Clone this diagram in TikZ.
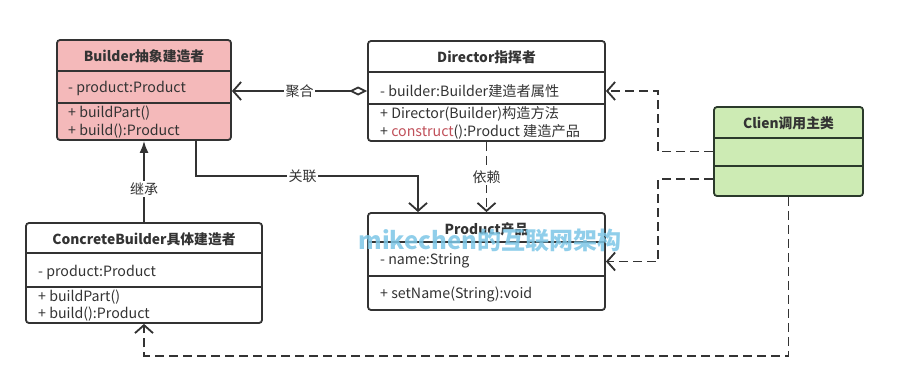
\documentclass[tikz,border=0pt]{standalone}
\usepackage{fontspec}
\setmainfont{Noto Sans CJK SC}
\usepackage{xcolor}
\usetikzlibrary{arrows.meta,calc}
\definecolor{boxline}{HTML}{333333}
\definecolor{greenline}{HTML}{2B3A2B}
\definecolor{txt}{HTML}{333333}
\definecolor{pinkfill}{HTML}{F4B9BA}
\definecolor{greenfill}{HTML}{CDEBB4}
\definecolor{redtxt}{HTML}{C0505A}
\definecolor{mark}{HTML}{7CC6E6}
\tikzset{
  umlbox/.style={
    draw=boxline,
    line width=1.8pt,
    rounded corners=3pt,
    inner sep=0pt
  },
  divider/.style={
    draw=boxline,
    line width=1.7pt
  },
  umltitle/.style={
    font=\bfseries\fontsize{13.8}{15}\selectfont,
    text=txt,
    inner sep=0pt
  },
  umltext/.style={
    anchor=west,
    font=\fontsize{14.2}{15}\selectfont,
    text=txt,
    inner sep=0pt
  },
  link/.style={
    draw=boxline,
    line width=1.8pt
  },
  dep/.style={
    link,
    dash pattern=on 9pt off 5pt
  },
  opentip/.style={
    -{Straight Barb[length=8pt,width=18pt]}
  },
  linklabel/.style={
    fill=white,
    inner sep=1.5pt,
    font=\fontsize{14}{15}\selectfont,
    text=txt
  }
}

\begin{document}
\begin{tikzpicture}[x=1pt,y=-1pt]
  \useasboundingbox (0,0) rectangle (908,386);
  % Builder
  \node[umlbox, fill=pinkfill, minimum width=174pt, minimum height=100pt] (builder) at (144,90) {};
  \draw[divider] ($(builder.north west)+(0,32)$) -- ($(builder.north east)+(0,32)$);
  \draw[divider] ($(builder.north west)+(0,64)$) -- ($(builder.north east)+(0,64)$);
  \node[umltitle] (buildertitle) at (144,56) {Builder抽象建造者};
  \node[umltext] (builderattr) at (68,88) {- product:Product};
  \node[umltext] (builderpart) at (68,113) {+ buildPart()};
  \node[umltext] (builderbuild) at (68,131) {+ build():Product};
  %
  % Director
  \node[umlbox, minimum width=237pt, minimum height=100pt] (director) at (486.5,91) {};
  \draw[divider] ($(director.north west)+(0,32)$) -- ($(director.north east)+(0,32)$);
  \draw[divider] ($(director.north west)+(0,64)$) -- ($(director.north east)+(0,64)$);
  \node[umltitle] (directortitle) at (486.5,57) {Director指挥者};
  \node[umltext] (directorattr) at (380,91) {- builder:Builder建造者属性};
  \node[umltext] (directorinit) at (380,114) {+ Director(Builder)构造方法};
  \node[umltext] (directorconstr) at (380,132) {+ \textcolor{redtxt}{construct}():Product 建造产品};
  %
  % Clien
  \node[umlbox, draw=greenline, fill=greenfill, minimum width=149pt, minimum height=89pt] (clien) at (788.5,151.5) {};
  \draw[divider, draw=greenline] ($(clien.north west)+(0,32)$) -- ($(clien.north east)+(0,32)$);
  \draw[divider, draw=greenline] ($(clien.north west)+(0,60)$) -- ($(clien.north east)+(0,60)$);
  \node[umltitle] (clientitle) at (788.5,123) {Clien调用主类};
  %
  % ConcreteBuilder
  \node[umlbox, minimum width=236pt, minimum height=100pt] (concrete) at (144,273) {};
  \draw[divider] ($(concrete.north west)+(0,31)$) -- ($(concrete.north east)+(0,31)$);
  \draw[divider] ($(concrete.north west)+(0,65)$) -- ($(concrete.north east)+(0,65)$);
  \node[umltitle] (concretetitle) at (144,239) {ConcreteBuilder具体建造者};
  \node[umltext] (concreteattr) at (38,272) {- product:Product};
  \node[umltext] (concretepart) at (38,297) {+ buildPart()};
  \node[umltext] (concretebuild) at (38,314) {+ build():Product};
  %
  % Product
  \node[umlbox, minimum width=237pt, minimum height=97pt] (product) at (486.5,261.5) {};
  \draw[divider] ($(product.north west)+(0,30)$) -- ($(product.north east)+(0,30)$);
  \draw[divider] ($(product.north west)+(0,64)$) -- ($(product.north east)+(0,64)$);
  \node[umltitle] (producttitle) at (486.5,229) {Product产品};
  \node[umltext] (productattr) at (380,261) {- name:String};
  \node[umltext] (productset) at (380,294) {+ setName(String):void};
  %
  % links
  \draw[link, {Diamond[open,length=18pt,width=9pt]}-{Straight Barb[length=8pt,width=18pt]}]
    (director.west) -- node[linklabel] {聚合} (director.west -| builder.east);
  \draw[link, -{Latex[length=12pt,width=9pt]}]
    (concrete.north) -- node[linklabel, pos=0.41] {继承} (builder.south);
  \draw[link, opentip] ([xshift=52pt]builder.south) -- ++(0,35)
    -| node[linklabel, pos=0.24] {关联} ([xshift=-68.5pt]product.north);
  \draw[dep, opentip] (director.south) -- node[linklabel] {依赖} (product.north);
  \draw[dep, opentip] (clien.west) -- ++(-55,0) |- (director.east);
  \draw[dep, opentip] ([yshift=-27.5pt]clien.west) -- ++(-55,0) |- (product.east);
  \draw[dep, opentip] (clien.south) -- ++(0,159) -| (concrete.south);
  %
  % watermark
  \node[text=mark, opacity=0.85, font=\bfseries\fontsize{24}{26}\selectfont, inner sep=0pt] (watermark) at (490,241) {mikechen的互联网架构};
\end{tikzpicture}
\end{document}
